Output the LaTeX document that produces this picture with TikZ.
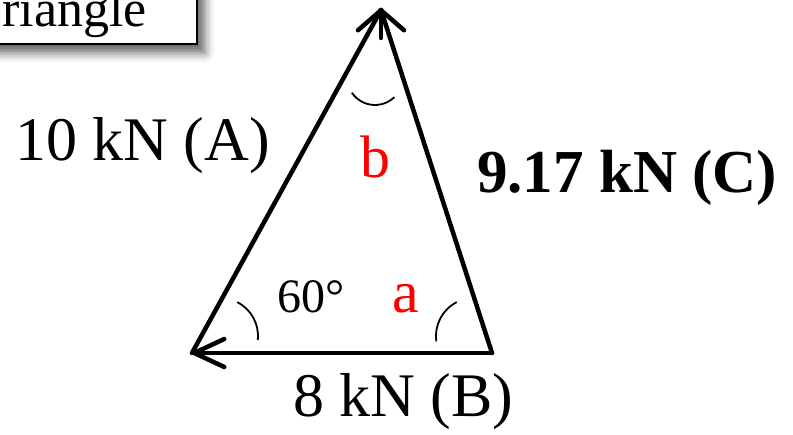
\documentclass[tikz,border=0pt]{standalone}
\usepackage{fontspec}
\setmainfont{Liberation Serif}
\usetikzlibrary{arrows.meta,shadows.blur}
\begin{document}
\begin{tikzpicture}[x=1pt,y=1pt,
  edge/.style={line width=4.5pt, line cap=round, line join=round},
  anglearc/.style={line width=1.8pt},
  lbl/.style={inner sep=0pt, anchor=base west, font=\fontsize{62}{70}\selectfont},
  smalllbl/.style={inner sep=0pt, anchor=base west, font=\fontsize{48}{56}\selectfont},
  redlbl/.style={inner sep=0pt, anchor=base west, text=red, font=\fontsize{60}{66}\selectfont},
  titlebox/.style={draw=black, line width=2pt, fill=white,
    blur shadow={shadow xshift=8pt, shadow yshift=-9pt, shadow blur radius=9pt, shadow opacity=60}},
]
\useasboundingbox (0,0) rectangle (793,-435);
\clip (0,0) rectangle (793,-435);

% title box (cut by the frame)
\draw[titlebox] (-60,20) rectangle (197,-44);
\node[inner sep=0pt, anchor=base east, font=\fontsize{52}{60}\selectfont] (title) at (147,-27) {Triangle};

% triangle vertices
\coordinate (BL) at (192,-353);
\coordinate (BR) at (492,-353);
\coordinate (T) at (381,-10);
\coordinate (Tstem) at (381,-38);
\coordinate (Ttip) at (381,-8);

% edges
\draw[edge] (BL) -- (T);
\draw[edge] (T) -- (BR);
\draw[edge, -{Straight Barb[length=30pt, width=28pt, round]}] (BR) -- (BL);
\draw[edge, -{Straight Barb[length=20pt, width=46pt, round]}] (Tstem) -- (Ttip);

% angle arcs
\coordinate (cBL) at (220,-336);
\coordinate (cBR) at (474,-336);
\coordinate (cT) at (375,-77);
\draw[anglearc] ([shift={(-6:38)}]cBL) arc[start angle=-6, end angle=63, radius=38];
\draw[anglearc] ([shift={(117:38)}]cBR) arc[start angle=117, end angle=188, radius=38];
\draw[anglearc] ([shift={(214:28)}]cT) arc[start angle=214, end angle=314, radius=28];

% labels
\node[lbl] (A) at (15,-161) {10 kN (A)};
\node[lbl, font=\fontsize{61}{70}\selectfont\bfseries] (C) at (477,-193) {9.17 kN (C)};
\node[lbl] (B) at (293,-417) {8 kN (B)};
\node[smalllbl] (ang) at (277,-313) {60°};
\node[redlbl] (a) at (392,-313) {a};
\node[redlbl] (b) at (360,-178) {b};
\end{tikzpicture}
\end{document}
